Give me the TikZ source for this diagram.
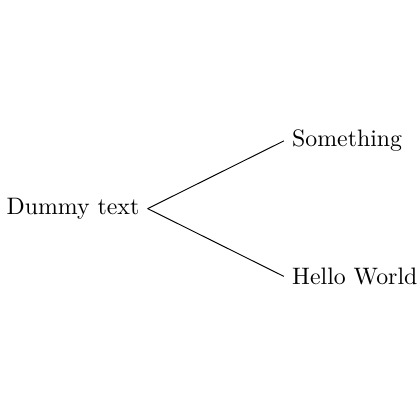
\documentclass[tikz,border=0pt]{standalone}
\usetikzlibrary{positioning}

\begin{document}
\begin{tikzpicture}
        \useasboundingbox (-2.18,-3.11) rectangle (4.02,3.08);
        \node[anchor=east] (root) at (0,0) {Dummy text};
        \node[anchor=west] (top) at (2.01,1.0) {Something};
        \node[anchor=west] (bottom) at (2.01,-1.0) {Hello World};
        \draw (root.east)--(top.west);
        \draw (root.east)--(bottom.west);
    \end{tikzpicture}
\end{document}
